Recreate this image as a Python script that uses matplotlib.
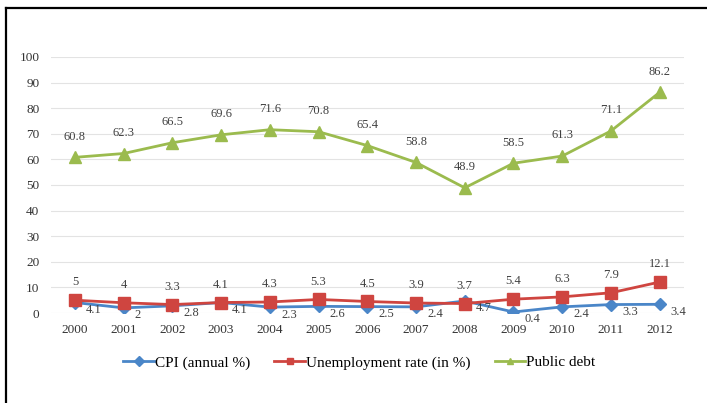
import numpy as np
import matplotlib.pyplot as plt
from matplotlib.lines import Line2D

plt.rcParams['font.family'] = ['Liberation Serif', 'DejaVu Serif']

years = ["2000", "2001", "2002", "2003", "2004", "2005", "2006",
         "2007", "2008", "2009", "2010", "2011", "2012"]
cpi = [4.1, 2, 2.8, 4.1, 2.3, 2.6, 2.5, 2.4, 4.7, 0.4, 2.4, 3.3, 3.4]
unemployment = [5, 4, 3.3, 4.1, 4.3, 5.3, 4.5, 3.9, 3.7, 5.4, 6.3, 7.9, 12.1]
public_debt = [60.8, 62.3, 66.5, 69.6, 71.6, 70.8, 65.4, 58.8, 48.9, 58.5, 61.3, 71.1, 86.2]

blue = "#4a86c8"
red = "#cf4540"
green = "#9bbb4e"

fig = plt.figure(figsize=(7.07, 4.03), dpi=100)
ax = fig.add_axes([0.0715, 0.2233, 0.896, 0.6353])

x = np.arange(len(years))

ax.plot(x, cpi, color=blue, lw=2, marker="D", ms=6, label="CPI (annual %)", zorder=3)
ax.plot(x, unemployment, color=red, lw=2, marker="s", ms=8, label="Unemployment rate (in %)", zorder=4)
ax.plot(x, public_debt, color=green, lw=2, marker="^", ms=8, label="Public debt", zorder=3)

# data labels
lbl = dict(fontsize=9, color="#404040", ha="center")
for i in x:
    ax.annotate(f"{public_debt[i]:g}", (i, public_debt[i]), xytext=(0, 10.5),
                textcoords="offset points", va="bottom", **lbl)
    ax.annotate(f"{unemployment[i]:g}", (i, unemployment[i]), xytext=(0, 8.5),
                textcoords="offset points", va="bottom", **lbl)
    ax.annotate(f"{cpi[i]:g}", (i, cpi[i]), xytext=(8, -1),
                textcoords="offset points", va="top", fontsize=9,
                color="#404040", ha="left")

ax.set_xlim(-0.5, len(years) - 0.5)
ax.set_ylim(0, 100)
ax.set_yticks(np.arange(0, 101, 10))
ax.set_xticks(x)
ax.set_xticklabels(years)
ax.tick_params(length=0, labelsize=9.5, colors="#333333")
ax.tick_params(axis="x", pad=8)
ax.tick_params(axis="y", pad=8)
ax.grid(axis="y", color="#e3e3e3", lw=0.8)
ax.set_axisbelow(True)
for s in ax.spines.values():
    s.set_visible(False)

leg = fig.legend(loc="center", bbox_to_anchor=(0.508, 0.1), ncol=3, frameon=False,
                 fontsize=11, handlelength=2.0, handletextpad=0.05, columnspacing=1.6)
for h in leg.legend_handles:
    h.set_markersize(5)

# frame on the left and top of the picture
fig.add_artist(Line2D([0.0085, 0.0085], [0, 0.98], color="black", lw=1.6))
fig.add_artist(Line2D([0.0085, 1.0], [0.98, 0.98], color="black", lw=1.6))

fig.savefig("out.png", dpi=100)
